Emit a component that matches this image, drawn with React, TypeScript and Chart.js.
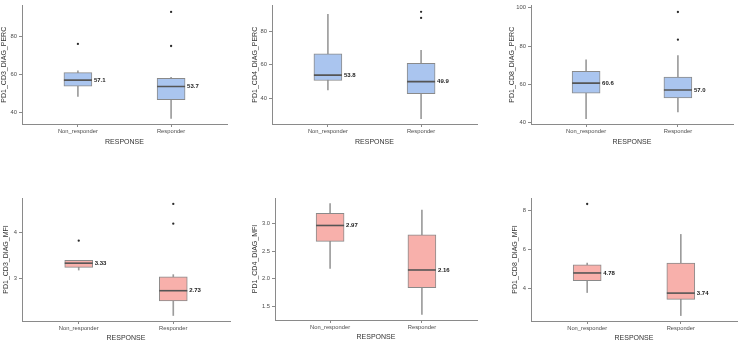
import React, { useEffect, useRef } from 'react';
import { Chart, registerables } from 'chart.js';

Chart.register(...registerables);
Chart.defaults.font.family = '"Liberation Sans", Arial, Helvetica, sans-serif';

const categories = ['Non_responder', 'Responder'];
const xTitle = 'RESPONSE';

// Box statistics per panel: [Non_responder, Responder]
const cd3Perc = {
  title: 'PD1_CD3_DIAG_PERC',
  low: [48.5, 36.8], q1: [53.9, 46.7], median: [57.1, 53.7], q3: [61.0, 58.0], high: [62.0, 58.5],
  outliers: [[76.2], [75.1, 93.1]],
  ticks: [40, 60, 80], tickDigits: 0, labelDigits: 1,
};
const cd4Perc = {
  title: 'PD1_CD4_DIAG_PERC',
  low: [44.9, 27.8], q1: [50.6, 42.8], median: [53.8, 49.9], q3: [66.5, 60.8], high: [89.9, 68.5],
  outliers: [[], [87.8, 91.4]],
  ticks: [40, 60, 80], tickDigits: 0, labelDigits: 1,
};
const cd8Perc = {
  title: 'PD1_CD8_DIAG_PERC',
  low: [42.0, 45.5], q1: [55.3, 52.8], median: [60.6, 57.0], q3: [66.8, 63.8], high: [72.8, 75.0],
  outliers: [[], [83.3, 97.8]],
  ticks: [40, 60, 80, 100], tickDigits: 0, labelDigits: 1,
};
const cd3Mfi = {
  title: 'PD1_CD3_DIAG_MFI',
  low: [3.18, 2.19], q1: [3.24, 2.51], median: [3.33, 2.73], q3: [3.39, 3.03], high: [3.39, 3.08],
  outliers: [[3.82], [4.19, 4.62]],
  ticks: [3, 4], tickDigits: 0, labelDigits: 2,
};
const cd4Mfi = {
  title: 'PD1_CD4_DIAG_MFI',
  low: [2.19, 1.35], q1: [2.68, 1.84], median: [2.97, 2.16], q3: [3.19, 2.8], high: [3.37, 3.25],
  outliers: [[], []],
  ticks: [1.5, 2.0, 2.5, 3.0], tickDigits: 1, labelDigits: 2,
};
const cd8Mfi = {
  title: 'PD1_CD8_DIAG_MFI',
  low: [3.77, 2.58], q1: [4.38, 3.42], median: [4.78, 3.74], q3: [5.2, 5.29], high: [5.29, 6.77],
  outliers: [[8.34], []],
  ticks: [4, 6, 8], tickDigits: 0, labelDigits: 2,
};

const BLUE = '#aac5ef';
const RED = '#f8b0ab';

const panels = [
  { stats: cd3Perc, fill: BLUE, x0: 0, y0: 0, L: 22, R: 227, T: 0, B: 124, ymin: 33.9, ymax: 96.5, titlePad: 0, xh: 22 },
  { stats: cd4Perc, fill: BLUE, x0: 245, y0: 0, L: 272, R: 477, T: 0, B: 124, ymin: 24.7, ymax: 95.2, titlePad: 6, xh: 22 },
  { stats: cd8Perc, fill: BLUE, x0: 490, y0: 0, L: 531, R: 733, T: 0, B: 124, ymin: 39.2, ymax: 101.2, titlePad: 18, xh: 22 },
  { stats: cd3Mfi, fill: RED, x0: 0, y0: 171, L: 22, R: 230, T: 198, B: 321, ymin: 2.07, ymax: 4.75, titlePad: 2, xh: 21 },
  { stats: cd4Mfi, fill: RED, x0: 245, y0: 171, L: 275, R: 477, T: 198, B: 320, ymin: 1.25, ymax: 3.47, titlePad: 6, xh: 21 },
  { stats: cd8Mfi, fill: RED, x0: 490, y0: 171, L: 531, R: 737, T: 198, B: 321, ymin: 2.3, ymax: 8.65, titlePad: 21, xh: 21 },
];

const medianLabelPlugin = {
  id: 'medianLabels',
  afterDatasetsDraw(chart: any, _args: any, opts: any) {
    const idx = chart.data.datasets.findIndex((d: any) => d.label === 'median');
    if (idx < 0) return;
    const meta = chart.getDatasetMeta(idx);
    const ctx = chart.ctx;
    ctx.save();
    ctx.font = 'bold 6px "Liberation Sans", Arial, sans-serif';
    ctx.fillStyle = '#1a1a1a';
    ctx.textBaseline = 'middle';
    ctx.textAlign = 'left';
    meta.data.forEach((pt: any, i: number) => {
      const v = chart.data.datasets[idx].data[i].y;
      ctx.fillText(Number(v).toFixed(opts.digits), pt.x + 16, pt.y);
    });
    ctx.restore();
  },
};

function BoxPanel({ panel }: { panel: any }) {
  const ref = useRef<HTMLCanvasElement>(null);
  const { stats } = panel;
  const width = panel.R - panel.x0 + 3;
  const height = panel.B + panel.xh - panel.y0 + 2;

  useEffect(() => {
    if (!ref.current) return;
    const xs = [1, 2];
    const axisColor = '#8a8a8a';
    const chart = new Chart(ref.current, {
      type: 'bar',
      data: {
        datasets: [
          {
            type: 'bar', label: 'whisker',
            data: xs.map((x, i) => ({ x, y: [stats.low[i], stats.high[i]] })),
            backgroundColor: '#9c9c9c', borderWidth: 0, grouped: false,
            barThickness: 1, maxBarThickness: 1, order: 4,
          } as any,
          {
            type: 'bar', label: 'box',
            data: xs.map((x, i) => ({ x, y: [stats.q1[i], stats.q3[i]] })),
            backgroundColor: panel.fill, borderColor: '#8a8a8a', borderWidth: 1, borderSkipped: false,
            grouped: false, barThickness: 28, maxBarThickness: 28, order: 3,
          } as any,
          {
            type: 'line', label: 'median',
            data: xs.map((x, i) => ({ x, y: stats.median[i] })),
            showLine: false, pointStyle: 'line', pointRadius: 14, pointHoverRadius: 14,
            pointBorderWidth: 1.6, pointBorderColor: '#555555', order: 2,
          } as any,
          {
            type: 'line', label: 'outlier',
            data: stats.outliers.flatMap((arr: number[], i: number) => arr.map((y) => ({ x: xs[i], y }))),
            showLine: false, pointStyle: 'circle', pointRadius: 1.15, pointBackgroundColor: '#2a2a2a',
            pointBorderWidth: 0, order: 1,
          } as any,
        ],
      },
      options: {
        responsive: false,
        animation: false,
        events: [],
        layout: {
          autoPadding: false,
          padding: { left: 0, top: panel.T - panel.y0, right: 3, bottom: 2 },
        },
        plugins: {
          legend: { display: false },
          tooltip: { enabled: false },
          medianLabels: { digits: stats.labelDigits },
        } as any,
        scales: {
          x: {
            type: 'linear', min: 0.4, max: 2.6, offset: false,
            afterBuildTicks: (s: any) => { s.ticks = xs.map((v) => ({ value: v })); },
            afterFit: (s: any) => { s.height = panel.xh; },
            ticks: {
              callback: (v: any) => categories[Math.round(Number(v)) - 1] ?? '',
              font: { size: 5.8 }, color: '#4d4d4d', padding: 1, maxRotation: 0, autoSkip: false,
            },
            grid: { display: true, drawOnChartArea: false, drawTicks: true, tickLength: 3, color: axisColor, offset: false },
            border: { display: true, color: axisColor, width: 1 },
            title: { display: true, text: xTitle, font: { size: 7 }, color: '#333333', padding: 0 },
          },
          y: {
            type: 'linear', min: panel.ymin, max: panel.ymax,
            afterBuildTicks: (s: any) => { s.ticks = stats.ticks.map((v: number) => ({ value: v })); },
            afterFit: (s: any) => { s.width = panel.L - panel.x0; },
            ticks: {
              callback: (v: any) => Number(v).toFixed(stats.tickDigits),
              font: { size: 5.8 }, color: '#4d4d4d', padding: 2,
            },
            grid: { display: true, drawOnChartArea: false, drawTicks: true, tickLength: 3, color: axisColor },
            border: { display: true, color: axisColor, width: 1 },
            title: {
              display: true, text: stats.title, font: { size: 7 }, color: '#333333',
              padding: { top: panel.titlePad, bottom: 0 },
            },
          },
        },
      } as any,
      plugins: [medianLabelPlugin as any],
    });
    return () => chart.destroy();
  }, []);

  return (
    <canvas
      ref={ref}
      width={width}
      height={height}
      style={{ position: 'absolute', left: panel.x0, top: panel.y0, width, height }}
    />
  );
}

export default function App() {
  return (
    <div style={{ position: 'absolute', left: 0, top: 0, width: 740, height: 342, background: '#ffffff', overflow: 'hidden' }}>
      {panels.map((p, i) => (
        <BoxPanel key={i} panel={p} />
      ))}
    </div>
  );
}
